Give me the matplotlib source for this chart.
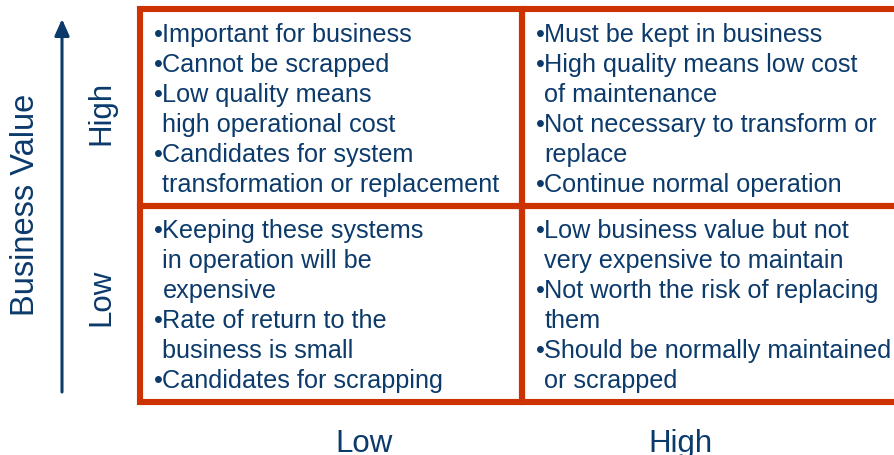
import matplotlib
matplotlib.use("Agg")
import matplotlib.pyplot as plt
from matplotlib.patches import Rectangle

plt.rcParams['font.family'] = ['Liberation Sans', 'DejaVu Sans']

# bullet points per quadrant (each point may wrap over several lines)
high_value_low_quality = [
    ["Important for business"],
    ["Cannot be scrapped"],
    ["Low quality means", "high operational cost"],
    ["Candidates for system", "transformation or replacement"],
]
high_value_high_quality = [
    ["Must be kept in business"],
    ["High quality means low cost", "of maintenance"],
    ["Not necessary to transform or", "replace"],
    ["Continue normal operation"],
]
low_value_low_quality = [
    ["Keeping these systems", "in operation will be", "expensive"],
    ["Rate of return to the", "business is small"],
    ["Candidates for scrapping"],
]
low_value_high_quality = [
    ["Low business value but not", "very expensive to maintain"],
    ["Not worth the risk of replacing", "them"],
    ["Should be normally maintained", "or scrapped"],
]

row_labels = ["High", "Low"]
col_labels = ["Low", "High"]
y_title = "Business Value"

navy = "#0b3a6b"
red = "#cc3300"

# layout in pixels
grid_left, grid_top = 140, 10
cell_w, cell_h = 382, 196.5
line_gap = 30
body_size = 18.2

fig = plt.figure(figsize=(8.95, 4.56), dpi=100)
ax = fig.add_axes([0, 0, 1, 1])
ax.set_xlim(0, 895)
ax.set_ylim(456, 0)
ax.axis('off')

cells = [[high_value_low_quality, high_value_high_quality],
         [low_value_low_quality, low_value_high_quality]]

for r in range(2):
    for c in range(2):
        x0 = grid_left + c * cell_w
        y0 = grid_top + r * cell_h
        ax.add_patch(Rectangle((x0, y0), cell_w, cell_h, fill=False,
                               edgecolor=red, lw=4.4, clip_on=False))
        y = y0 + 32
        for item in cells[r][c]:
            ax.text(x0 + 14, y, "•", color=navy, fontsize=body_size, va='baseline')
            for line in item:
                ax.text(x0 + 22.5, y, line, color=navy, fontsize=body_size,
                        va='baseline')
                y += line_gap

# row labels (rotated) and column labels
row_label_y = [113, 297]
for lab, yy in zip(row_labels, row_label_y):
    ax.text(101, yy, lab, rotation=90, color=navy, fontsize=22.5,
            ha='center', va='center')

col_label_x = [364, 680]
for lab, xx in zip(col_labels, col_label_x):
    ax.text(xx, 452, lab, color=navy, fontsize=22.5, ha='center', va='baseline')

ax.text(26, 205, y_title, rotation=90, color=navy, fontsize=23.5,
        ha='center', va='center')

ax.annotate('', xy=(62, 20), xytext=(62, 393),
            arrowprops=dict(arrowstyle='-|>,head_length=0.45,head_width=0.2',
                            lw=2.2, color=navy, mutation_scale=22,
                            shrinkA=0, shrinkB=0))

fig.savefig("out.png", dpi=100)
